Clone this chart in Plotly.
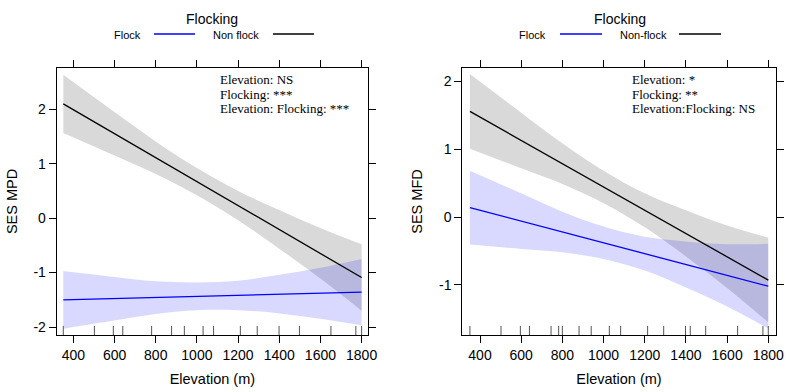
import plotly.graph_objects as go

# ---------------- data ----------------
elev = [351, 600, 800, 1000, 1200, 1400, 1600, 1800]

# Left panel: SES MPD
mpd_nonflock_fit = [2.10, 1.552, 1.112, 0.672, 0.231, -0.209, -0.649, -1.09]
mpd_nonflock_up = [2.635, 1.95, 1.41, 0.92, 0.50, 0.15, -0.18, -0.48]
mpd_nonflock_lo = [1.565, 1.15, 0.81, 0.42, -0.04, -0.56, -1.11, -1.70]
mpd_flock_fit = [-1.50, -1.476, -1.457, -1.437, -1.418, -1.399, -1.379, -1.36]
mpd_flock_up = [-0.97, -1.08, -1.16, -1.18, -1.15, -1.04, -0.91, -0.75]
mpd_flock_lo = [-2.03, -1.88, -1.76, -1.69, -1.69, -1.75, -1.85, -1.97]

# Right panel: SES MFD
mfd_nonflock_fit = [1.56, 1.132, 0.789, 0.445, 0.101, -0.242, -0.586, -0.93]
mfd_nonflock_up = [2.11, 1.54, 1.09, 0.685, 0.35, 0.10, -0.125, -0.305]
mfd_nonflock_lo = [1.01, 0.72, 0.49, 0.205, -0.15, -0.58, -1.045, -1.555]
mfd_flock_fit = [0.14, -0.059, -0.219, -0.379, -0.540, -0.700, -0.860, -1.02]
mfd_flock_up = [0.685, 0.35, 0.08, -0.14, -0.29, -0.36, -0.40, -0.395]
mfd_flock_lo = [-0.405, -0.47, -0.52, -0.62, -0.79, -1.04, -1.32, -1.645]

# rug (observed elevations)
rug_left = [351, 502, 594, 640, 780, 877, 939, 1030, 1081, 1211, 1293, 1399, 1498, 1651, 1772, 1800]
rug_right = [351, 502, 596, 640, 745, 782, 800, 881, 940, 1028, 1083, 1214, 1292, 1398, 1421,
             1496, 1651, 1774, 1800]

x_ticks = [400, 600, 800, 1000, 1200, 1400, 1600, 1800]
left_yticks = [-2, -1, 0, 1, 2]
right_yticks = [-1, 0, 1, 2]

left_stats = ["Elevation: NS", "Flocking: ***", "Elevation: Flocking: ***"]
right_stats = ["Elevation: *", "Flocking: **", "Elevation:Flocking: NS"]
legend_title = "Flocking"
left_labels = ["Flock", "Non flock"]
right_labels = ["Flock", "Non-flock"]

# ---------------- figure ----------------
W, H = 800, 392
fig = go.Figure()

GRAY_FILL = "rgba(0,0,0,0.15)"
BLUE_FILL = "rgba(0,0,255,0.15)"


def add_band(xa, ya, lo, up, fill):
    fig.add_trace(go.Scatter(x=elev, y=lo, mode="lines", line=dict(width=0, shape="spline"),
                             xaxis=xa, yaxis=ya, showlegend=False, hoverinfo="skip"))
    fig.add_trace(go.Scatter(x=elev, y=up, mode="lines", line=dict(width=0, shape="spline"),
                             fill="tonexty", fillcolor=fill,
                             xaxis=xa, yaxis=ya, showlegend=False, hoverinfo="skip"))


def add_fit(xa, ya, fit, color):
    fig.add_trace(go.Scatter(x=elev, y=fit, mode="lines", line=dict(width=1.3, color=color),
                             xaxis=xa, yaxis=ya, showlegend=False))


add_band("x", "y", mpd_nonflock_lo, mpd_nonflock_up, GRAY_FILL)
add_band("x", "y", mpd_flock_lo, mpd_flock_up, BLUE_FILL)
add_fit("x", "y", mpd_nonflock_fit, "black")
add_fit("x", "y", mpd_flock_fit, "blue")

add_band("x2", "y2", mfd_nonflock_lo, mfd_nonflock_up, GRAY_FILL)
add_band("x2", "y2", mfd_flock_lo, mfd_flock_up, BLUE_FILL)
add_fit("x2", "y2", mfd_nonflock_fit, "black")
add_fit("x2", "y2", mfd_flock_fit, "blue")

shapes = []
for v in rug_left:
    shapes.append(dict(type="line", xref="x", yref="y domain", x0=v, x1=v, y0=0, y1=0.034,
                       line=dict(color="#555555", width=1)))
for v in rug_right:
    shapes.append(dict(type="line", xref="x2", yref="y2 domain", x0=v, x1=v, y0=0, y1=0.034,
                       line=dict(color="#555555", width=1)))


def px(x):
    return x / W


def py(y):
    return 1 - y / H


# legend line keys
for (x0, x1, c) in [(154, 195, "blue"), (273, 314, "black"), (560, 602, "blue"), (679, 721, "black")]:
    shapes.append(dict(type="line", xref="paper", yref="paper", x0=px(x0), x1=px(x1),
                       y0=py(34), y1=py(34), line=dict(color=c, width=1.3)))

annotations = []
font_sans = "Arial, Liberation Sans, sans-serif"
font_serif = "Times New Roman, Liberation Serif, serif"

# legend titles and labels
annotations.append(dict(text=legend_title, x=px(212), y=py(19), xref="paper", yref="paper",
                        showarrow=False, xanchor="center", yanchor="middle",
                        font=dict(family=font_sans, size=14, color="black")))
annotations.append(dict(text=legend_title, x=px(619.5), y=py(19), xref="paper", yref="paper",
                        showarrow=False, xanchor="center", yanchor="middle",
                        font=dict(family=font_sans, size=14, color="black")))
for (txt, x) in [(left_labels[0], 112), (left_labels[1], 211), (right_labels[0], 517), (right_labels[1], 618)]:
    annotations.append(dict(text=txt, x=px(x), y=py(35), xref="paper", yref="paper",
                            showarrow=False, xanchor="left", yanchor="middle",
                            font=dict(family=font_sans, size=11, color="black")))

# statistics text
for i, (ys) in enumerate([79.5, 94, 108.5]):
    annotations.append(dict(text=left_stats[i], x=px(219), y=py(ys), xref="paper", yref="paper",
                            showarrow=False, xanchor="left", yanchor="middle", borderpad=0,
                            font=dict(family=font_serif, size=13, color="black")))
    annotations.append(dict(text=right_stats[i], x=px(631), y=py(ys), xref="paper", yref="paper",
                            showarrow=False, xanchor="left", yanchor="middle", borderpad=0,
                            font=dict(family=font_serif, size=13, color="black")))

axis_common = dict(showline=True, linecolor="black", linewidth=1, mirror="ticks",
                   ticks="outside", ticklen=7, tickcolor="black", tickwidth=1,
                   showgrid=False, zeroline=False, automargin=False,
                   tickfont=dict(family=font_sans, size=14, color="black"))

fig.update_layout(
    width=W, height=H,
    margin=dict(l=0, r=0, t=0, b=0, autoexpand=False),
    paper_bgcolor="white", plot_bgcolor="white",
    showlegend=False,
    shapes=shapes,
    annotations=annotations,
    xaxis=dict(domain=[px(56.7), px(368)], range=[319, 1831], anchor="y",
               tickvals=x_ticks, ticktext=[str(t) for t in x_ticks],
               title=dict(text="Elevation (m)", standoff=12,
                          font=dict(family=font_sans, size=14.5, color="black")),
               **axis_common),
    yaxis=dict(domain=[py(335), py(68)], range=[-2.147, 2.76], anchor="x",
               tickvals=left_yticks, ticktext=[str(t) for t in left_yticks],
               title=dict(text="SES MPD", standoff=12,
                          font=dict(family=font_sans, size=14.5, color="black")),
               **axis_common),
    xaxis2=dict(domain=[px(462.3), px(775.7)], range=[314, 1836], anchor="y2",
                tickvals=x_ticks, ticktext=[str(t) for t in x_ticks],
                title=dict(text="Elevation (m)", standoff=12,
                           font=dict(family=font_sans, size=14.5, color="black")),
                **axis_common),
    yaxis2=dict(domain=[py(335), py(68)], range=[-1.74, 2.20], anchor="x2",
                tickvals=right_yticks, ticktext=[str(t) for t in right_yticks],
                title=dict(text="SES MFD", standoff=12,
                           font=dict(family=font_sans, size=14.5, color="black")),
                **axis_common),
)

fig.write_html("out.html", config={"displayModeBar": False},
               post_script="document.body.style.margin='0';")
